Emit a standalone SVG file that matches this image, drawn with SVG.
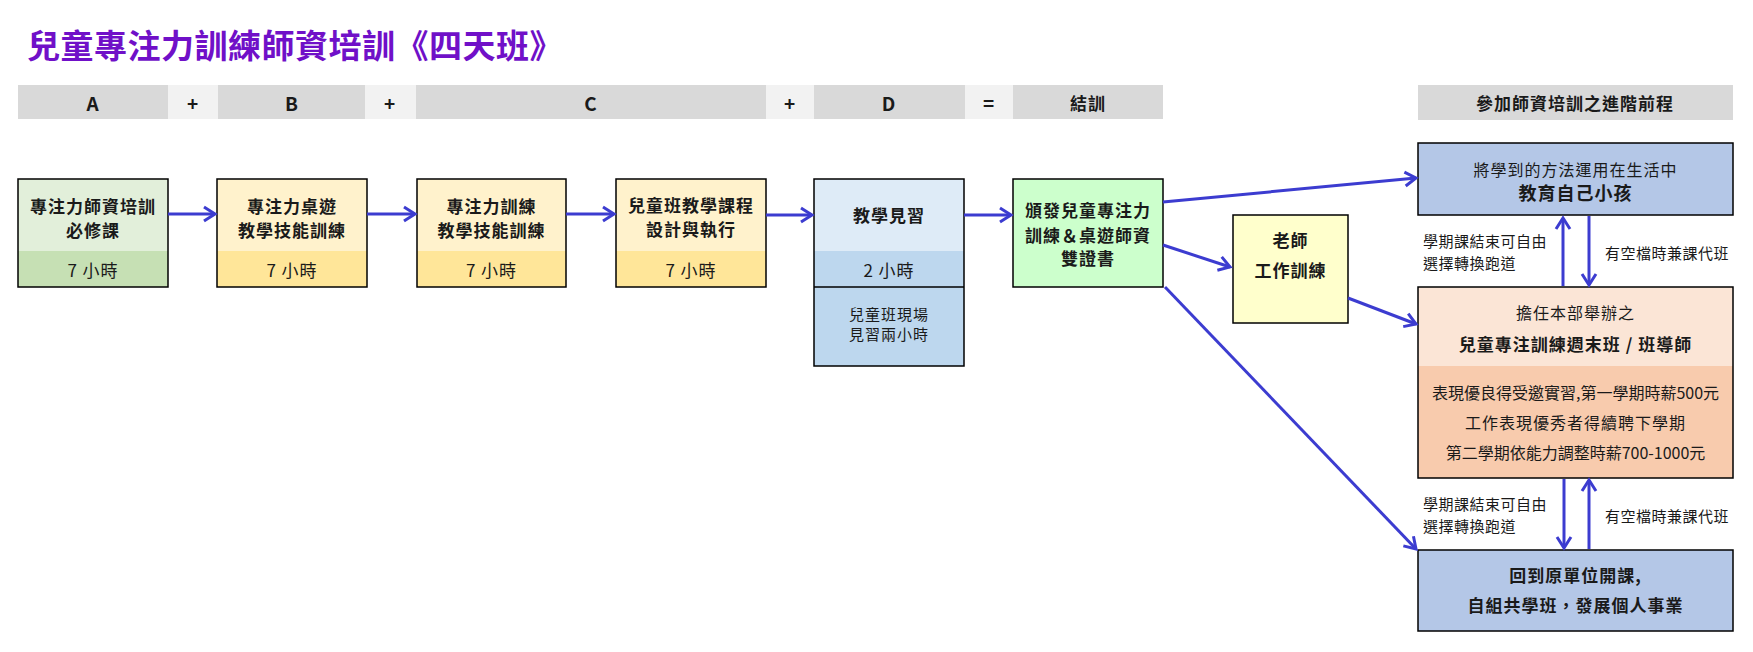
<svg xmlns="http://www.w3.org/2000/svg" width="1753" height="652" viewBox="0 0 1753 652">
<defs>
<style>
text{font-family:"Noto Sans CJK TC","Noto Sans CJK SC",sans-serif;fill:#1a1a1a;dominant-baseline:central;text-anchor:middle}
.title{font-size:33px;font-weight:bold;fill:#7010c8;text-anchor:start;letter-spacing:0.5px}
.hd{font-size:19px;font-weight:bold;letter-spacing:1px}
.hz{font-size:17px;font-weight:bold;letter-spacing:1px}
.b{font-size:17px;font-weight:bold;letter-spacing:1px}
.r{font-size:16px;letter-spacing:1px}
.h{font-size:17px;letter-spacing:1px}
.m{font-size:16px;letter-spacing:0}
.s{font-size:15px;letter-spacing:1px}
.lab{font-size:15px;letter-spacing:0.5px;text-anchor:start}
.bar{fill:#d9d9d9}
.op{fill:#f2f2f2}
.box{stroke:#000;stroke-width:1.5;fill:none}
.conn{stroke:#3c3cd0;stroke-width:3;fill:none;marker-end:url(#ah)}
</style>
<marker id="ah" markerUnits="userSpaceOnUse" markerWidth="16" markerHeight="18" refX="13" refY="8" orient="auto" viewBox="0 0 16 16">
<path d="M2,1 L13,8 L2,15" fill="none" stroke="#3c3cd0" stroke-width="3"/>
</marker>
</defs>
<rect width="1753" height="652" fill="#fff"/>
<text class="title" x="27" y="44">兒童專注力訓練師資培訓《四天班》</text>

<g id="header">
<rect class="bar" x="18" y="85" width="150" height="34"/><text class="hd" x="93" y="102">A</text>
<rect class="op" x="168" y="85" width="50" height="34"/><text class="hd" x="193" y="102">+</text>
<rect class="bar" x="218" y="85" width="147" height="34"/><text class="hd" x="292" y="102">B</text>
<rect class="op" x="365" y="85" width="51" height="34"/><text class="hd" x="390" y="102">+</text>
<rect class="bar" x="416" y="85" width="350" height="34"/><text class="hd" x="591" y="102">C</text>
<rect class="op" x="766" y="85" width="48" height="34"/><text class="hd" x="790" y="102">+</text>
<rect class="bar" x="814" y="85" width="151" height="34"/><text class="hd" x="889" y="102">D</text>
<rect class="op" x="965" y="85" width="48" height="34"/><text class="hd" x="989" y="102">=</text>
<rect class="bar" x="1013" y="85" width="150" height="34"/><text class="hz" x="1088" y="102">結訓</text>
<rect class="bar" x="1418" y="85" width="315" height="35"/><text class="hz" x="1575" y="102">參加師資培訓之進階前程</text>
</g>

<g id="nodeA">
<rect x="18" y="179" width="150" height="72" fill="#e2efda"/>
<rect x="18" y="251" width="150" height="36" fill="#c6e0b4"/>
<rect class="box" x="18" y="179" width="150" height="108"/>
<text class="b" x="93" y="205">專注力師資培訓</text>
<text class="b" x="93" y="229">必修課</text>
<text class="h" x="93" y="269">7 小時</text>
</g>
<g id="nodeB">
<rect x="217" y="179" width="150" height="72" fill="#fff2cc"/>
<rect x="217" y="251" width="150" height="36" fill="#ffe699"/>
<rect class="box" x="217" y="179" width="150" height="108"/>
<text class="b" x="292" y="205">專注力桌遊</text>
<text class="b" x="292" y="229">教學技能訓練</text>
<text class="h" x="292" y="269">7 小時</text>
</g>
<g id="nodeC">
<rect x="417" y="179" width="149" height="72" fill="#fff2cc"/>
<rect x="417" y="251" width="149" height="36" fill="#ffe699"/>
<rect class="box" x="417" y="179" width="149" height="108"/>
<text class="b" x="491.5" y="205">專注力訓練</text>
<text class="b" x="491.5" y="229">教學技能訓練</text>
<text class="h" x="491.5" y="269">7 小時</text>
</g>
<g id="nodeD">
<rect x="616" y="179" width="150" height="72" fill="#fff2cc"/>
<rect x="616" y="251" width="150" height="36" fill="#ffe699"/>
<rect class="box" x="616" y="179" width="150" height="108"/>
<text class="b" x="691" y="204">兒童班教學課程</text>
<text class="b" x="691" y="228">設計與執行</text>
<text class="h" x="691" y="269">7 小時</text>
</g>
<g id="nodeE">
<rect x="814" y="179" width="150" height="72" fill="#deebf7"/>
<rect x="814" y="251" width="150" height="115" fill="#bdd7ee"/>
<rect class="box" x="814" y="179" width="150" height="187"/>
<line x1="814" y1="287" x2="964" y2="287" stroke="#000" stroke-width="1.5"/>
<text class="b" x="889" y="214">教學見習</text>
<text class="h" x="889" y="269">2 小時</text>
<text class="s" x="889" y="313">兒童班現場</text>
<text class="s" x="889" y="333">見習兩小時</text>
</g>
<g id="nodeF">
<rect x="1013" y="179" width="150" height="108" fill="#ccffcc"/>
<rect class="box" x="1013" y="179" width="150" height="108"/>
<text class="b" x="1088" y="209">頒發兒童專注力</text>
<text class="b" x="1088" y="234">訓練＆桌遊師資</text>
<text class="b" x="1088" y="257">雙證書</text>
</g>
<g id="nodeG">
<rect x="1233" y="215" width="115" height="108" fill="#ffffcc"/>
<rect class="box" x="1233" y="215" width="115" height="108"/>
<text class="b" x="1290.5" y="239">老師</text>
<text class="b" x="1290.5" y="269">工作訓練</text>
</g>
<g id="nodeH">
<rect x="1418" y="143" width="315" height="72" fill="#b4c7e7"/>
<rect class="box" x="1418" y="143" width="315" height="72"/>
<text class="r" x="1575.5" y="169">將學到的方法運用在生活中</text>
<text class="b" x="1575.5" y="192" style="font-size:18px">教育自己小孩</text>
</g>
<g id="nodeM">
<rect x="1418" y="287" width="315" height="79" fill="#fbe5d6"/>
<rect x="1418" y="366" width="315" height="112" fill="#f8cbad"/>
<rect class="box" x="1418" y="287" width="315" height="191"/>
<text class="r" x="1575.5" y="312">擔任本部舉辦之</text>
<text class="b" x="1575.5" y="343">兒童專注訓練週末班 / 班導師</text>
<text class="m" x="1575.5" y="392">表現優良得受邀實習,第一學期時薪500元</text>
<text class="r" x="1575.5" y="422">工作表現優秀者得續聘下學期</text>
<text class="m" x="1575.5" y="452">第二學期依能力調整時薪700-1000元</text>
</g>
<g id="nodeN">
<rect x="1418" y="550" width="315" height="81" fill="#b4c7e7"/>
<rect class="box" x="1418" y="550" width="315" height="81"/>
<text class="b" x="1575.5" y="574">回到原單位開課,</text>
<text class="b" x="1575.5" y="604">自組共學班，發展個人事業</text>
</g>

<g id="labels">
<text class="lab" x="1423" y="240">學期課結束可自由</text>
<text class="lab" x="1423" y="262">選擇轉換跑道</text>
<text class="lab" x="1605" y="252">有空檔時兼課代班</text>
<text class="lab" x="1423" y="503">學期課結束可自由</text>
<text class="lab" x="1423" y="525">選擇轉換跑道</text>
<text class="lab" x="1605" y="515">有空檔時兼課代班</text>
</g>

<g id="connectors">
<line class="conn" x1="168" y1="214" x2="215" y2="214"/>
<line class="conn" x1="367" y1="214" x2="415" y2="214"/>
<line class="conn" x1="566" y1="214" x2="614" y2="214"/>
<line class="conn" x1="766" y1="215" x2="812" y2="215"/>
<line class="conn" x1="964" y1="215" x2="1011" y2="215"/>
<line class="conn" x1="1163" y1="202" x2="1416" y2="178"/>
<line class="conn" x1="1163" y1="245" x2="1230" y2="267"/>
<line class="conn" x1="1165" y1="287" x2="1416" y2="549"/>
<line class="conn" x1="1348" y1="298" x2="1416" y2="324"/>
<line class="conn" x1="1563" y1="286" x2="1563" y2="218"/>
<line class="conn" x1="1589" y1="216" x2="1589" y2="285"/>
<line class="conn" x1="1564" y1="479" x2="1564" y2="548"/>
<line class="conn" x1="1589" y1="549" x2="1589" y2="480"/>
</g>
</svg>
